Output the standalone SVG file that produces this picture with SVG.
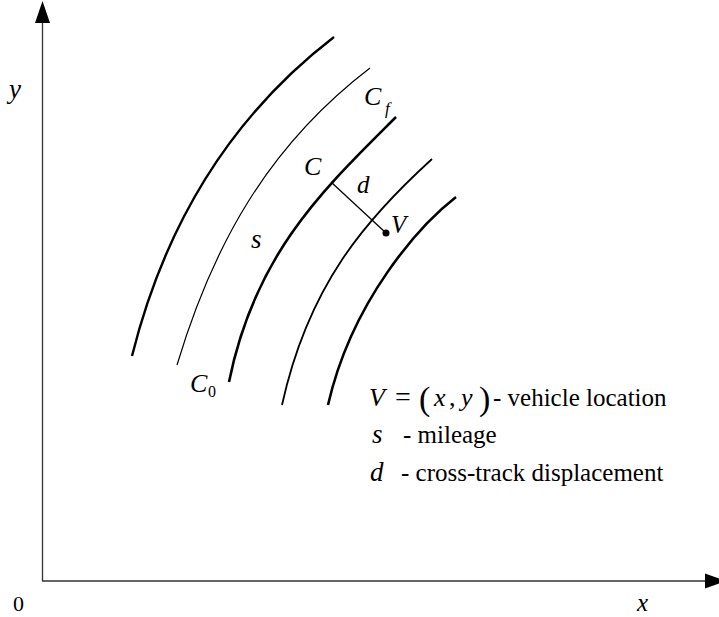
<svg xmlns="http://www.w3.org/2000/svg" width="719" height="617" viewBox="0 0 719 617">
<style>
.ax{stroke:#333;stroke-width:1.3;fill:none}
.ah{fill:#000;stroke:none}
.c{fill:none;stroke:#000;stroke-linecap:butt}
.t{font-family:"Liberation Serif","Times New Roman","DejaVu Serif",serif;fill:#000}
.i{font-style:italic}
</style>
<rect width="719" height="617" fill="#fff"/>
<g id="axes">
<line class="ax" x1="42.5" y1="581" x2="42.5" y2="20"/>
<polygon class="ah" points="42.5,1 35,23 50,23"/>
<line class="ax" x1="42" y1="581" x2="708" y2="581"/>
<polygon class="ah" points="726,581 705,573.5 705,588.5"/>
</g>
<g id="curves">
<path id="curve1" class="c" stroke-width="2.4" d="M132,356 C164.5,226 230,117 334,37"/>
<path id="curve2" class="c" stroke-width="1.2" d="M177,365 C213,245 268,146 370,68"/>
<path id="curve3" class="c" stroke-width="2.6" d="M229,382 C255,252 326,187 396,117"/>
<path id="curve4" class="c" stroke-width="1.8" d="M282,405 C308.4,285 366,219 432,159"/>
<path id="curve5" class="c" stroke-width="2.6" d="M328,405 C352,300 420,225 456,197"/>
</g>
<g id="connectors">
<line x1="331" y1="182" x2="386" y2="233" stroke="#000" stroke-width="1.3"/>
</g>
<g id="vehicle">
<circle cx="386" cy="233" r="3.5" fill="#000"/>
<text class="t i" x="391" y="233" font-size="25">V</text>
</g>
<g id="labels">
<text class="t i" x="9" y="98" font-size="27">y</text>
<text class="t" x="13" y="611" font-size="22">0</text>
<text class="t i" x="637" y="611" font-size="25">x</text>
<text class="t i" x="364" y="105" font-size="26">C<tspan font-size="17" x="385" y="114">f</tspan></text>
<text class="t i" x="304" y="175" font-size="26">C</text>
<text class="t i" x="357" y="193" font-size="25">d</text>
<text class="t i" x="251" y="248" font-size="27">s</text>
<text class="t i" x="190" y="392" font-size="26">C<tspan font-style="normal" font-size="16" x="208" y="397">0</tspan></text>
</g>
<g id="legend">
<text class="t i" x="369" y="405.7" font-size="26">V</text>
<text class="t" x="395" y="405.7" font-size="28">=</text>
<text class="t" x="419" y="410" font-size="34">(</text>
<text class="t i" x="434" y="405.7" font-size="26">x</text>
<text class="t" x="449" y="405.7" font-size="26">,</text>
<text class="t i" x="461" y="405.7" font-size="26">y</text>
<text class="t" x="479" y="410" font-size="34">)</text>
<text class="t" x="493" y="405.7" font-size="25">- vehicle location</text>
<text class="t i" x="372" y="442.7" font-size="27">s</text>
<text class="t" x="403" y="442.7" font-size="25">- mileage</text>
<text class="t i" x="370" y="481" font-size="27">d</text>
<text class="t" x="401" y="480.5" font-size="25">- cross-track displacement</text>
</g>
</svg>
